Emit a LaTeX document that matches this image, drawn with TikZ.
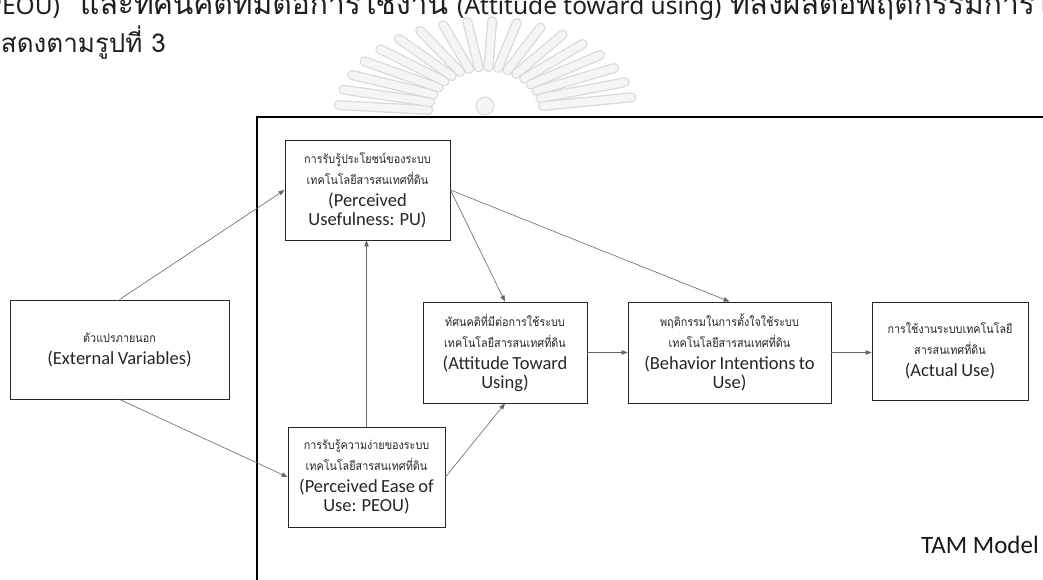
\documentclass[tikz,border=0pt]{standalone}
\usepackage{fontspec}
\usetikzlibrary{arrows.meta,calc}
\newfontfamily\thaifont[Script=Thai, FakeStretch=0.9]{Loma}
\newfontfamily\headth[Script=Thai]{Loma}
\newfontfamily\headla{Noto Sans}
\newfontfamily\enfont{Carlito}
\newcommand\thsmall{\thaifont\fontsize{12}{21}\selectfont}
\newcommand\ensize{\enfont\fontsize{18.5}{19}\selectfont}
% two Thai lines followed by the English term
\newcommand\boxtext[2]{{\thsmall #1\par}\vspace{3pt}{\ensize #2\par}}

\tikzset{
  box/.style={draw=black!85, line width=0.9pt, inner sep=0pt, align=center, text=black!85},
  link/.style={draw=black!60, line width=0.6pt, -{Triangle[length=6pt,width=4.5pt]}},
  rayedge/.style={draw=black!15, line width=10pt, line cap=round},
  ray/.style={draw=black!4, line width=7.5pt, line cap=round},
  headth/.style={anchor=base west, inner sep=0pt, text=black!88, font=\headth\fontsize{30}{30}\selectfont},
  headla/.style={anchor=base west, inner sep=0pt, text=black!88, font=\headla\fontsize{24.5}{25}\selectfont},
}

\begin{document}
\begin{tikzpicture}[x=1pt,y=-1pt]
\useasboundingbox (0,0) rectangle (1043,580);
\clip (0,0) rectangle (1043,580);
\fill[white] (0,0) rectangle (1043,580);

% faint emblem behind the heading: a fan of feathered rays and a small disc
\coordinate (emb) at (486,115);
\foreach \a in {6,15.6,...,176} {
  \draw[rayedge] ($(emb)+({-cos(\a)*58},{-sin(\a)*48})$) -- ($(emb)+({-cos(\a)*148},{-sin(\a)*94})$);
  \draw[ray] ($(emb)+({-cos(\a)*58},{-sin(\a)*48})$) -- ($(emb)+({-cos(\a)*148},{-sin(\a)*94})$);
}
\draw[black!14, fill=black!4, line width=1pt] (485,106) circle (9);

% heading text, cut by the top edge
\node[headla] (headA1) at (-13,15) {PEOU)};
\node[headth] (headA2) at (80,15) {และทัศนคติที่มีต่อการใช้งาน};
\node[headla] (headA3) at (457,15) {(Attitude toward using)};
\node[headth] (headA4) at (730,15) {ที่ส่งผลต่อพฤติกรรมการใช้งาน};
\node[headth, font=\headth\fontsize{26}{26}\selectfont] (headB) at (-16,53) {แสดงตามรูปที่ 3};

% model frame
\coordinate (fbl) at (257,580);
\coordinate (ftl) at (257,117);
\coordinate (ftr) at (1043,117);
\fill[white] (257,117) rectangle (1043,580);
\draw[black, line width=1.4pt] (fbl) -- (ftl) -- (ftr);

% boxes
\node[box, minimum width=219pt, minimum height=99pt, text width=210pt] (ext) at (119.5,349.5)
  {\boxtext{ตัวแปรภายนอก}{(External Variables)}};
\node[box, minimum width=165pt, minimum height=100pt, text width=158pt] (pu) at (367.5,190)
  {\boxtext{การรับรู้ประโยชน์ของระบบ\\เทคโนโลยีสารสนเทศที่ดิน}{(Perceived\\Usefulness: PU)}};
\node[box, minimum width=157pt, minimum height=100pt, text width=152pt] (peou) at (366.5,477)
  {\boxtext{การรับรู้ความง่ายของระบบ\\เทคโนโลยีสารสนเทศที่ดิน}{(Perceived Ease of\\Use: PEOU)}};
\node[box, minimum width=164pt, minimum height=101pt, text width=158pt] (att) at (505,352.5)
  {\boxtext{ทัศนคติที่มีต่อการใช้ระบบ\\เทคโนโลยีสารสนเทศที่ดิน}{(Attitude Toward\\Using)}};
\node[box, minimum width=203pt, minimum height=101pt, text width=196pt] (bi) at (729.5,352.5)
  {\boxtext{พฤติกรรมในการตั้งใจใช้ระบบ\\เทคโนโลยีสารสนเทศที่ดิน}{(Behavior Intentions to\\Use)}};
\node[box, minimum width=156pt, minimum height=98pt, text width=150pt] (act) at (950,351)
  {\boxtext{การใช้งานระบบเทคโนโลยี\\สารสนเทศที่ดิน}{(Actual Use)}};

% connectors
\draw[link] (ext.north) -- (pu.west);
\draw[link] (ext.south) -- (peou.west);
\draw[link] (peou.north) -- (peou.north |- pu.south);
\draw[link] (peou.east) -- (att.south);
\draw[link] (pu.east) -- (att.north);
\draw[link] (pu.east) -- (bi.north);
\draw[link] (att.east) -- (bi.west);
\draw[link] (bi.east) -- (bi.east -| act.west);

% model caption
\node[anchor=base east, font=\enfont\fontsize{25}{25}\selectfont, text=black!90, inner sep=0pt]
  (tam) at (1039,553) {TAM Model};
\end{tikzpicture}
\end{document}
